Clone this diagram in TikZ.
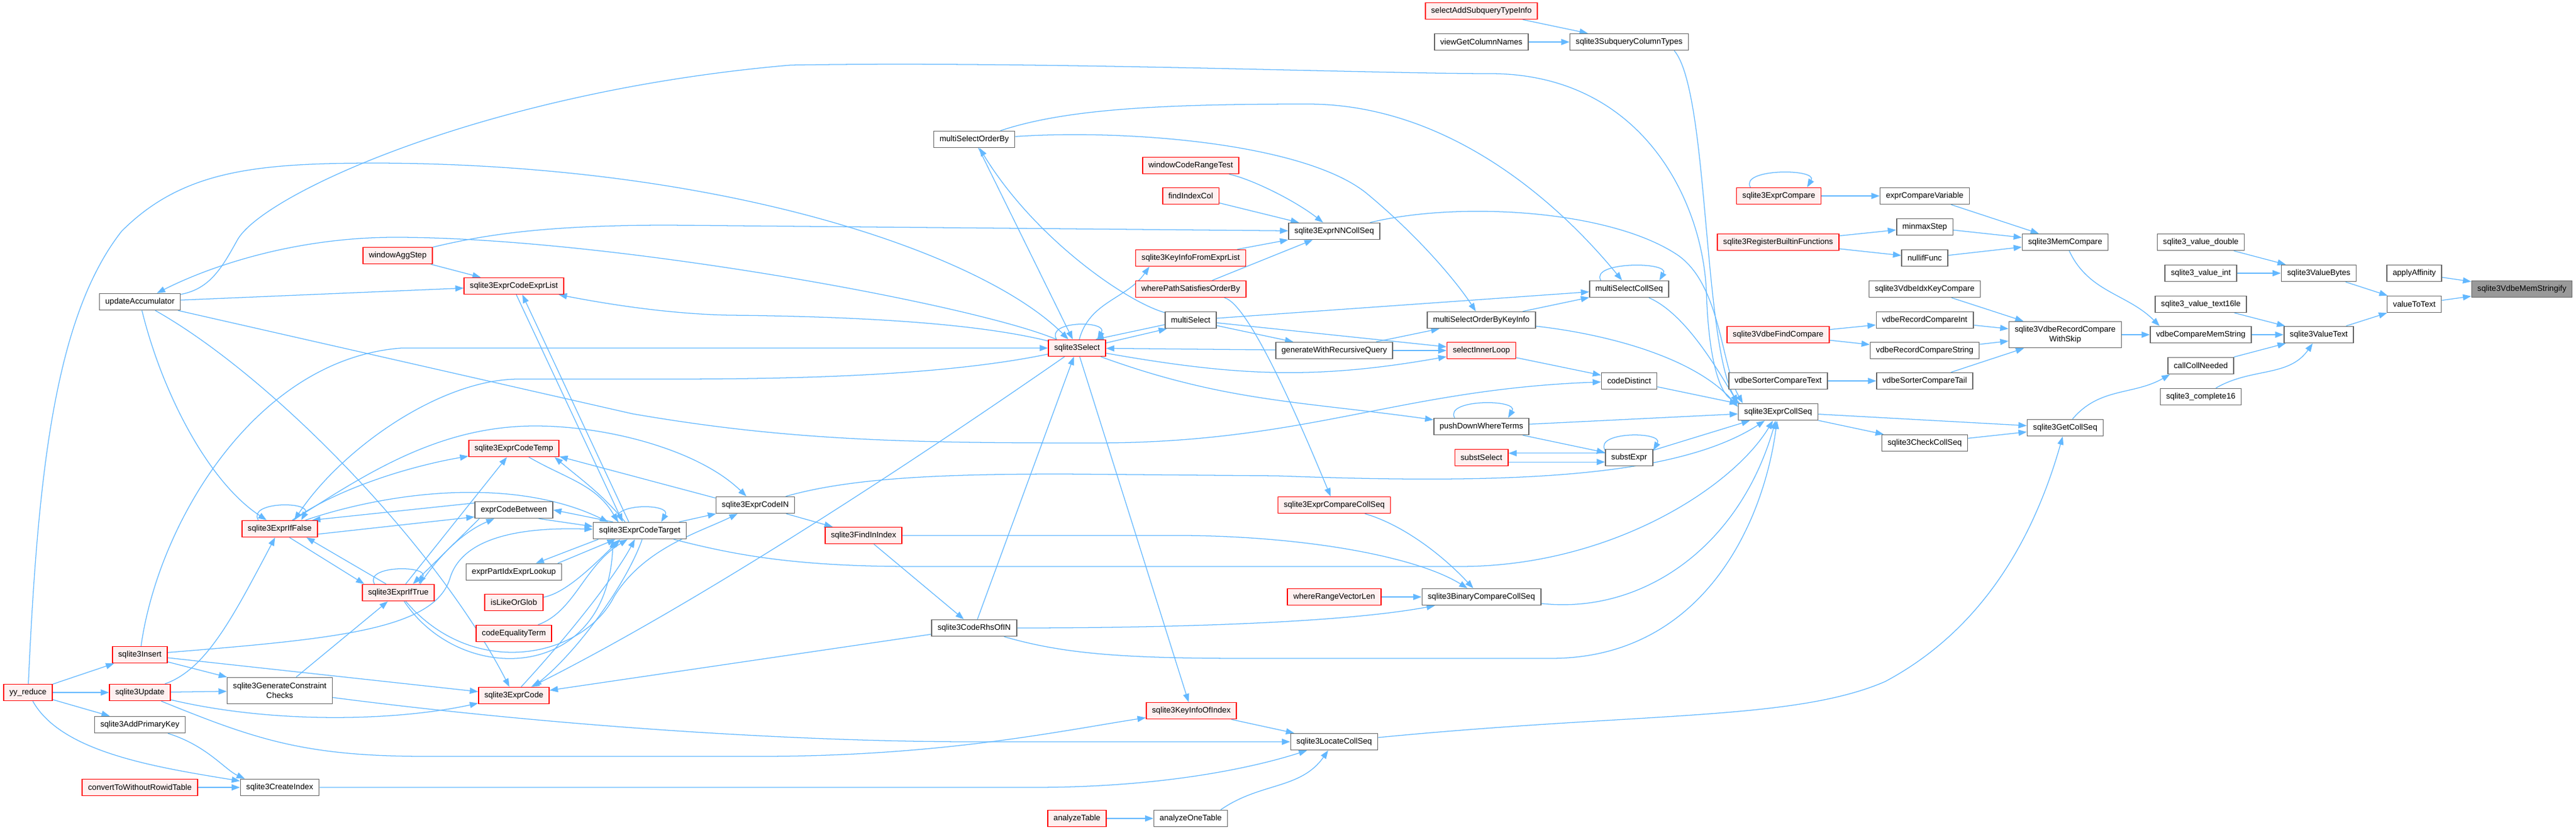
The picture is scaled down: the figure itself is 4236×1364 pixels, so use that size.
\documentclass[tikz,border=0pt]{standalone}
\usepackage{fontspec}
\setmainfont{Liberation Sans}
\usepackage{xcolor}
\definecolor{EdgeBlue}{HTML}{63B8FF}
\definecolor{NodeGray}{HTML}{666666}
\definecolor{NodeRed}{HTML}{FF0000}
\definecolor{RedFill}{HTML}{FFF0F0}
\definecolor{MainFill}{HTML}{999999}
\usetikzlibrary{arrows.meta}
\usetikzlibrary{backgrounds}

\begin{document}
\begin{tikzpicture}[x=0.25mm, y=-0.25mm,
    font=\fontsize{9.4}{11}\selectfont,
    >={Triangle[length=3.4mm,width=2.5mm]},
    fn/.style={shape=rectangle, draw=NodeGray, fill=white, line width=1.1pt,
      minimum height=19.2pt, inner xsep=6.8pt, inner ysep=2pt},
    fnred/.style={fn, draw=NodeRed, fill=RedFill},
    fnmain/.style={fn, fill=MainFill},
    fntwo/.style={align=center, minimum height=30.6pt},
    link/.style={draw=EdgeBlue, line width=0.9pt},
    every edge/.style={link},
    selfloop/.style={out=120, in=60, distance=9mm}]

    \path [use as bounding box] (0,0) rectangle (4236,1364);

    \node[name=mem, fnmain, at={(4147,475)}] {sqlite3VdbeMemStringify};
    \node[name=applyAff, fn, at={(3970,449)}] {applyAffinity};
    \node[name=valToText, fn, at={(3970,500)}] {valueToText};
    \node[name=valBytes, fn, at={(3813,449)}] {sqlite3ValueBytes};
    \node[name=valText, fn, at={(3813,550)}] {sqlite3ValueText};
    \node[name=valDouble, fn, at={(3619,398)}] {sqlite3\_value\_double};
    \node[name=valInt, fn, at={(3619,449)}] {sqlite3\_value\_int};
    \node[name=valText16, fn, at={(3619,500)}] {sqlite3\_value\_text16le};
    \node[name=cmpMemStr, fn, at={(3619,550)}] {vdbeCompareMemString};
    \node[name=callColl, fn, at={(3619,601)}] {callCollNeeded};
    \node[name=complete16, fn, at={(3619,652)}] {sqlite3\_complete16};
    \node[name=memCmp, fn, at={(3396,398)}] {sqlite3MemCompare};
    \node[name=recCmpSkip, fn, fntwo, at={(3396,550)}] {sqlite3VdbeRecordCompare\\WithSkip};
    \node[name=getColl, fn, at={(3396,703)}] {sqlite3GetCollSeq};
    \node[name=cmpVar, fn, at={(3165,322)}] {exprCompareVariable};
    \node[name=minmax, fn, at={(3165,373)}] {minmaxStep};
    \node[name=nullif, fn, at={(3165,424)}] {nullifFunc};
    \node[name=idxKeyCmp, fn, at={(3165,475)}] {sqlite3VdbeIdxKeyCompare};
    \node[name=recCmpInt, fn, at={(3165,526)}] {vdbeRecordCompareInt};
    \node[name=recCmpStr, fn, at={(3165,576)}] {vdbeRecordCompareString};
    \node[name=sortTail, fn, at={(3165,626)}] {vdbeSorterCompareTail};
    \node[name=checkColl, fn, at={(3165,728)}] {sqlite3CheckCollSeq};
    \node[name=exprCmp, fnred, at={(2925,322)}] {sqlite3ExprCompare};
    \node[name=regBuiltin, fnred, at={(2924,398)}] {sqlite3RegisterBuiltinFunctions};
    \node[name=findCmp, fnred, at={(2924,550)}] {sqlite3VdbeFindCompare};
    \node[name=sortText, fn, at={(2924,626)}] {vdbeSorterCompareText};
    \node[name=exprColl, fn, at={(2924,677)}] {sqlite3ExprCollSeq};
    \node[name=subqColTypes, fn, at={(2679,69)}] {sqlite3SubqueryColumnTypes};
    \node[name=msCollSeq, fn, at={(2679,475)}] {multiSelectCollSeq};
    \node[name=codeDistinct, fn, at={(2679,626)}] {codeDistinct};
    \node[name=substExpr, fn, at={(2679,752)}] {substExpr};
    \node[name=selAddSubq, fnred, at={(2436,18)}] {selectAddSubqueryTypeInfo};
    \node[name=viewGetCol, fn, at={(2436,69)}] {viewGetColumnNames};
    \node[name=msOrderKey, fn, at={(2436,526)}] {multiSelectOrderByKeyInfo};
    \node[name=selInner, fnred, at={(2436,576)}] {selectInnerLoop};
    \node[name=pushDown, fn, at={(2436,701)}] {pushDownWhereTerms};
    \node[name=substSelect, fnred, at={(2436,752)}] {substSelect};
    \node[name=binCmpColl, fn, at={(2436,981)}] {sqlite3BinaryCompareCollSeq};
    \node[name=nnColl, fn, at={(2194,380)}] {sqlite3ExprNNCollSeq};
    \node[name=genRec, fn, at={(2194,576)}] {generateWithRecursiveQuery};
    \node[name=cmpCollSeq, fnred, at={(2194,830)}] {sqlite3ExprCompareCollSeq};
    \node[name=rangeVec, fnred, at={(2194,981)}] {whereRangeVectorLen};
    \node[name=locColl, fn, at={(2194,1219)}] {sqlite3LocateCollSeq};
    \node[name=winRange, fnred, at={(1958,272)}] {windowCodeRangeTest};
    \node[name=findIdxCol, fnred, at={(1958,322)}] {findIndexCol};
    \node[name=keyInfoList, fnred, at={(1958,424)}] {sqlite3KeyInfoFromExprList};
    \node[name=wherePath, fnred, at={(1958,475)}] {wherePathSatisfiesOrderBy};
    \node[name=multiSel, fn, at={(1958,526)}] {multiSelect};
    \node[name=keyInfoIdx, fnred, at={(1959,1168)}] {sqlite3KeyInfoOfIndex};
    \node[name=analyzeOne, fn, at={(1958,1345)}] {analyzeOneTable};
    \node[name=select, fnred, at={(1771,572)}] {sqlite3Select};
    \node[name=analyzeTab, fnred, at={(1771,1345)}] {analyzeTable};
    \node[name=msOrderBy, fn, at={(1602,229)}] {multiSelectOrderBy};
    \node[name=rhsIn, fn, at={(1602,1032)}] {sqlite3CodeRhsOfIN};
    \node[name=findInIdx, fnred, at={(1420,880)}] {sqlite3FindInIndex};
    \node[name=codeIn, fn, at={(1242,830)}] {sqlite3ExprCodeIN};
    \node[name=codeTarget, fn, at={(1052,872)}] {sqlite3ExprCodeTarget};
    \node[name=codeExprList, fnred, at={(845,470)}] {sqlite3ExprCodeExprList};
    \node[name=codeTemp, fnred, at={(845,737)}] {sqlite3ExprCodeTemp};
    \node[name=codeBetween, fn, at={(845,838)}] {exprCodeBetween};
    \node[name=partIdx, fn, at={(845,940)}] {exprPartIdxExprLookup};
    \node[name=likeGlob, fnred, at={(845,990)}] {isLikeOrGlob};
    \node[name=eqTerm, fnred, at={(845,1041)}] {codeEqualityTerm};
    \node[name=exprCode, fnred, at={(845,1143)}] {sqlite3ExprCode};
    \node[name=winAggStep, fnred, at={(654,420)}] {windowAggStep};
    \node[name=ifTrue, fnred, at={(655,974)}] {sqlite3ExprIfTrue};
    \node[name=ifFalse, fnred, at={(460,869)}] {sqlite3ExprIfFalse};
    \node[name=genCons, fn, fntwo, at={(460,1135)}] {sqlite3GenerateConstraint\\Checks};
    \node[name=createIdx, fn, at={(460,1294)}] {sqlite3CreateIndex};
    \node[name=updAcc, fn, at={(230,496)}] {updateAccumulator};
    \node[name=insert, fnred, at={(230,1076)}] {sqlite3Insert};
    \node[name=update, fnred, at={(230,1138)}] {sqlite3Update};
    \node[name=addPK, fn, at={(230,1191)}] {sqlite3AddPrimaryKey};
    \node[name=convRowid, fnred, at={(230,1294)}] {convertToWithoutRowidTable};
    \node[name=yyReduce, fnred, at={(46,1138)}] {yy\_reduce};

    \begin{scope}[on background layer]
    \path (applyAff) edge[->] (mem);
    \path (valToText) edge[->] (mem);
    \path (valBytes) edge[->] (valToText);
    \path (valText) edge[->] (valToText);
    \path (valDouble) edge[->] (valBytes);
    \path (valInt) edge[->] (valBytes);
    \path (valText16) edge[->] (valText);
    \path (cmpMemStr) edge[->] (valText);
    \path (callColl) edge[->] (valText);
    \path (complete16) edge[->, out=30, in=-125] (valText);
    \path (memCmp) edge[->, out=-65, in=135] ([xshift=4mm]cmpMemStr.north west);
    \path (recCmpSkip) edge[->] (cmpMemStr);
    \path (getColl) edge[->, out=50, in=-150] ([xshift=1mm]callColl.south west);
    \path (cmpVar) edge[->] (memCmp);
    \path (minmax) edge[->] (memCmp);
    \path (nullif) edge[->] (memCmp);
    \path (idxKeyCmp) edge[->] (recCmpSkip);
    \path (recCmpInt) edge[->] (recCmpSkip);
    \path (recCmpStr) edge[->] (recCmpSkip);
    \path (sortTail) edge[->] (recCmpSkip);
    \path (exprCmp) edge[->] (cmpVar);
    \path (exprCmp.163) edge[->, selfloop] (exprCmp.17);
    \path (regBuiltin) edge[->] (minmax);
    \path (regBuiltin) edge[->] (nullif);
    \path (findCmp) edge[->] (recCmpInt);
    \path (findCmp) edge[->] (recCmpStr);
    \path (sortText) edge[->] (sortTail);
    \path (exprColl) edge[->] (getColl);
    \path (exprColl) edge[->] (checkColl);
    \path (checkColl) edge[->] (getColl);
    \draw[link, ->] (locColl) .. controls (2700,1170) and (2950,1185) .. (3100,1120)
      .. controls (3250,1040) and (3340,900) .. (getColl);

    \path (yyReduce) edge[->] (insert);
    \path (yyReduce) edge[->] (update);
    \path (yyReduce) edge[->] (addPK);
    \draw[link, ->] (yyReduce) .. controls (100,1235) and (250,1260) .. (createIdx);
    \draw[link, ->] (yyReduce) .. controls (62,780) and (90,520) .. (200,380)
      .. controls (300,280) and (420,268) .. (620,268)
      .. controls (1200,270) and (1620,420) .. (select);
    \draw[link, ->] (addPK) .. controls (340,1225) and (370,1265) .. ([xshift=2mm]createIdx.north west);
    \path (convRowid) edge[->] (createIdx);
    \draw[link, ->] (createIdx) -- (1700,1294) .. controls (1900,1294) and (2050,1265) .. (locColl);
    \draw[link, ->] (insert) .. controls (260,860) and (420,590) .. (660,572) -- (select);
    \path (insert) edge[->] (genCons);
    \path (insert) edge[->] (exprCode);
    \draw[link, ->] (insert) .. controls (550,1050) and (715,1035) .. (740,950)
      .. controls (760,885) and (850,866) .. (codeTarget);
    \path (update) edge[->] (genCons);
    \draw[link, ->] (update) .. controls (340,1100) and (385,1010) .. (ifFalse);
    \draw[link, ->] (update) .. controls (450,1190) and (650,1185) .. (exprCode);
    \draw[link, ->] (update) .. controls (420,1215) and (500,1243) .. (700,1243) -- (1250,1243)
      .. controls (1550,1243) and (1750,1200) .. (keyInfoIdx);
    \draw[link, ->] (genCons) .. controls (900,1192) and (1300,1219) .. (1600,1219) -- (locColl);
    \path (genCons) edge[->] (ifTrue);
    \path (analyzeTab) edge[->] (analyzeOne);
    \path ([xshift=-3mm]analyzeOne.north east) edge[->, out=35, in=-125] (locColl);
    \path (keyInfoIdx) edge[->] (locColl);

    \path (updAcc) edge[->] (codeExprList);
    \draw[link, ->] (updAcc) .. controls (345,475) and (365,440) .. (390,395)
      .. controls (430,320) and (800,150) .. (1300,107)
      .. controls (1700,100) and (2250,121) .. (2450,121)
      .. controls (2700,121) and (2800,330) .. (2806,480)
      .. controls (2810,600) and (2830,650) .. ([xshift=1mm]exprColl.north west);
    \draw[link, ->] (updAcc) .. controls (265,640) and (340,790) .. (ifFalse);
    \draw[link, ->] (updAcc) .. controls (450,620) and (720,900) .. (exprCode);
    \draw[link, ->] (updAcc) -- (1040,680) .. controls (1300,725) and (1500,728) .. (1800,728)
      .. controls (2150,728) and (2300,640) .. (codeDistinct);
    \path (winAggStep) edge[->] (codeExprList);
    \draw[link, ->] (winAggStep) .. controls (800,385) and (900,370) .. (1100,370) -- (nnColl);

    \path ([xshift=1mm]codeExprList.south) edge[->] ([xshift=-7mm]codeTarget.north);
    \path ([xshift=-4.5mm]codeTarget.north) edge[->] ([xshift=3.5mm]codeExprList.south);
    \path (codeTarget.158) edge[->, selfloop] (codeTarget.22);
    \path (codeTarget) edge[->] (codeIn);
    \path ([xshift=-6mm]codeTarget.north) edge[->, out=130, in=-40] ([xshift=-2mm]codeTemp.south east);
    \path (codeTemp) edge[->, out=-30, in=120] ([xshift=-9mm]codeTarget.north);
    \path ([xshift=-11mm]codeTarget.north) edge[->] (codeBetween.east);
    \path ([xshift=-6mm]codeBetween.south east) edge[->] (codeTarget.175);
    \path ([xshift=-17mm]codeTarget.south) edge[->] ([xshift=9mm]partIdx.north);
    \path ([xshift=18mm]partIdx.north) edge[->] ([xshift=-10mm]codeTarget.south);
    \draw[link, ->] (likeGlob) .. controls (930,975) and (975,930) .. ([xshift=-8mm]codeTarget.south);
    \draw[link, ->] (eqTerm) .. controls (945,1005) and (960,930) .. ([xshift=-5mm]codeTarget.south);
    \draw[link, ->] ([xshift=3mm]exprCode.north) .. controls (930,1050) and (1010,950) .. ([xshift=-2mm]codeTarget.south);
    \draw[link, ->] ([xshift=1mm]codeTarget.south) .. controls (1030,960) and (950,1070) .. ([xshift=8mm]exprCode.north);
    \draw[link, ->] (codeTarget) .. controls (1200,910) and (1300,931) .. (1500,931) -- (2400,931)
      .. controls (2650,931) and (2850,800) .. (exprColl);

    \draw[link, ->] (ifTrue) .. controls (760,1130) and (1000,1120) .. ([xshift=-11mm]codeTarget.south);
    \draw[link, ->] (ifTrue) .. controls (780,1120) and (960,1080) .. (1010,980)
      .. controls (1060,900) and (1150,875) .. (codeIn);
    \draw[link, ->] (ifFalse) .. controls (600,780) and (720,700) .. (880,700)
      .. controls (1000,700) and (1150,740) .. (codeIn);
    \draw[link, ->] (ifFalse) .. controls (650,805) and (850,785) .. ([xshift=-13mm]codeTarget.north);
    \draw[link, ->] (ifFalse) .. controls (560,800) and (680,765) .. (codeTemp);
    \path (ifFalse.-8) edge[->] (codeBetween.-170);
    \path (codeBetween.170) edge[->] (ifFalse.15);
    \path (ifFalse.158) edge[->, selfloop] (ifFalse.22);
    \path ([xshift=4mm]ifFalse.south) edge[->] ([xshift=-14mm]ifTrue.north);
    \path ([xshift=-5mm]ifTrue.north) edge[->] ([xshift=11mm]ifFalse.south);
    \path (ifTrue.160) edge[->, selfloop] (ifTrue.23);
    \path ([xshift=3mm]ifTrue.north) edge[->] (codeTemp);
    \draw[link, ->] ([xshift=9mm]ifTrue.north) .. controls (720,915) and (760,875) .. ([xshift=-8mm]codeBetween.south);
    \path ([xshift=2mm]codeBetween.south west) edge[->] ([xshift=6mm]ifTrue.north);

    \path (codeIn) edge[->] (findInIdx);
    \path (codeIn.170) edge[->] (codeTemp.-10);
    \draw[link, ->] (codeIn) .. controls (1400,785) and (1550,779) .. (1750,779) -- (2100,782)
      .. controls (2450,795) and (2750,790) .. (exprColl);
    \path (findInIdx) edge[->] (rhsIn);
    \draw[link, ->] (findInIdx) -- (1950,880) .. controls (2150,882) and (2330,915) .. (binCmpColl);
    \draw[link, ->] (rhsIn) .. controls (1900,1032) and (2200,1025) .. (binCmpColl);
    \draw[link, ->] (rhsIn) .. controls (1750,1075) and (1850,1082) .. (2050,1082) -- (2550,1082)
      .. controls (2800,1082) and (2900,860) .. (exprColl);
    \path (rhsIn) edge[->] (exprCode);
    \path (rhsIn) edge[->] (select);

    \path (select.157) edge[->, selfloop] (select.23);
    \path (select) edge[->, out=75, in=-125] ([xshift=-17mm]keyInfoList.south);
    \path (select.10) edge[->] (multiSel.-160);
    \path (multiSel.190) edge[->] (select.25);
    \draw[link, ->] (multiSel) .. controls (1850,495) and (1700,390) .. (msOrderBy);
    \path (msOrderBy) edge[->] (select);
    \draw[link, ->] (msOrderBy) .. controls (1850,212) and (2150,235) .. (2250,320)
      .. controls (2340,395) and (2400,470) .. (msOrderKey);
    \draw[link, ->] (msOrderBy) .. controls (1750,180) and (1900,171) .. (2150,171)
      .. controls (2380,171) and (2560,330) .. (msCollSeq);
    \path (multiSel) edge[->] (msCollSeq);
    \path (multiSel) edge[->] (selInner);
    \path (multiSel) edge[->] (genRec);
    \path (genRec) edge[->] (select);
    \path (genRec) edge[->] (selInner);
    \path (genRec) edge[->] (msOrderKey);
    \path (select) edge[->, out=-10, in=190] (selInner);
    \path (select) edge[->, out=-20, in=172] (pushDown);
    \path (select) edge[->] (keyInfoIdx);
    \draw[link, ->] (select) .. controls (1500,760) and (1150,990) .. (exprCode);
    \draw[link, ->] (select) .. controls (1550,618) and (1300,623) .. (1100,623) -- (850,623)
      .. controls (720,625) and (560,740) .. ([xshift=6mm]ifFalse.north);
    \draw[link, ->] (select) .. controls (1600,500) and (1000,390) .. (650,390)
      .. controls (480,390) and (340,440) .. (updAcc);
    \draw[link, ->] (select) .. controls (1600,530) and (1400,520) .. (1200,518)
      .. controls (1100,516) and (1000,500) .. (codeExprList);

    \draw[link, ->] (winRange) .. controls (2060,295) and (2130,330) .. (nnColl);
    \path (findIdxCol) edge[->] (nnColl);
    \path (keyInfoList) edge[->] (nnColl);
    \path (wherePath) edge[->] (nnColl);
    \draw[link, ->] (nnColl) .. controls (2400,330) and (2650,345) .. (2760,420)
      .. controls (2830,470) and (2830,600) .. ([xshift=2mm]exprColl.north west);
    \draw[link, ->] (wherePath) .. controls (2055,500) and (2140,700) .. (cmpCollSeq);

    \path (msCollSeq.163) edge[->, selfloop] (msCollSeq.16);
    \draw[link, ->] (msCollSeq) .. controls (2770,515) and (2820,600) .. (exprColl.north west);
    \path (msOrderKey) edge[->] (msCollSeq);
    \draw[link, ->] (msOrderKey) .. controls (2650,550) and (2790,590) .. ([yshift=-1.5mm]exprColl.north west);
    \path (selInner) edge[->] (codeDistinct);
    \path (codeDistinct) edge[->] (exprColl);
    \draw[link, ->] ([xshift=-6mm]subqColTypes.south east) .. controls (2810,150) and (2800,560) .. (exprColl.north west);
    \path (selAddSubq) edge[->] (subqColTypes);
    \path (viewGetCol) edge[->] (subqColTypes);
    \path (pushDown) edge[->] (exprColl);
    \path (pushDown.162) edge[->, selfloop] (pushDown.18);
    \path (pushDown) edge[->] (substExpr);
    \path (substExpr) edge[->] (exprColl);
    \path (substExpr.163) edge[->, selfloop] (substExpr.17);
    \path ([yshift=1.8mm]substExpr.west) edge[->] ([yshift=1.8mm]substSelect.east);
    \path ([yshift=-1.8mm]substSelect.east) edge[->] ([yshift=-1.8mm]substExpr.west);
    \draw[link, ->] (binCmpColl) .. controls (2700,1010) and (2860,900) .. (exprColl);
    \draw[link, ->] (cmpCollSeq) .. controls (2300,860) and (2365,905) .. (binCmpColl);
    \path (rangeVec) edge[->] (binCmpColl);
    \end{scope}
\end{tikzpicture}
\end{document}
